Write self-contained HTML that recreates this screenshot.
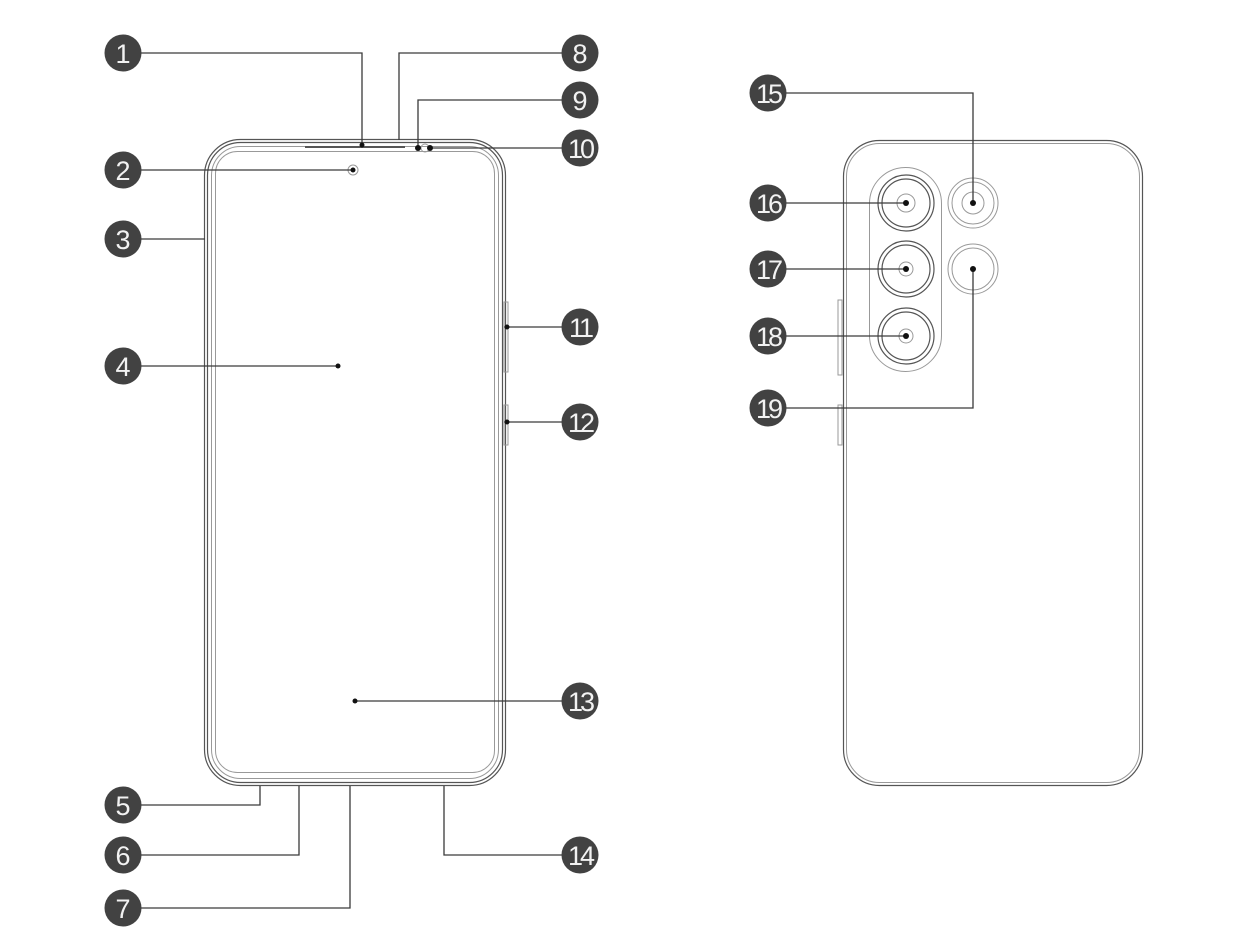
<!DOCTYPE html>
<html><head><meta charset="utf-8"><style>
html,body{margin:0;padding:0;background:#fff;}
svg{display:block;}
.b{fill:#424242;}
.t{fill:#f2f2f2;font-family:"Liberation Sans",sans-serif;font-size:27px;text-anchor:middle;dominant-baseline:central;}
.l{stroke:#3a3a3a;stroke-width:1.3;fill:none;}
.o{stroke:#555;stroke-width:1.2;fill:none;}
.g{stroke:#999;stroke-width:1;fill:none;}
</style></head><body>
<svg width="1246" height="939" viewBox="0 0 1246 939">
<!-- Front phone -->
<rect x="204.5" y="139.5" width="301" height="646" rx="36" class="o"/>
<rect x="207.5" y="142.5" width="295" height="640" rx="33" class="o"/>
<rect x="211.5" y="146.5" width="287" height="632" rx="29" class="g"/>
<rect x="215.5" y="151.5" width="279" height="621" rx="22" class="g"/>
<line x1="305" y1="147" x2="405" y2="147" stroke="#555" stroke-width="2"/>
<rect x="504" y="302" width="4" height="70" class="g"/>
<rect x="504" y="405" width="4" height="40" class="g"/>
<circle cx="353" cy="170" r="5" class="g"/>
<circle cx="425" cy="148" r="4" class="g"/>
<!-- Back phone -->
<rect x="843.5" y="140.5" width="299" height="645" rx="36" class="o"/>
<rect x="846.5" y="143.5" width="293" height="639" rx="33" class="g"/>
<rect x="838" y="300" width="4" height="75" class="g"/>
<rect x="838" y="405" width="4" height="40" class="g"/>
<rect x="869.5" y="167.5" width="72" height="204" rx="36" class="g"/>
<g>
<circle cx="906" cy="203" r="28" class="o"/><circle cx="906" cy="203" r="24" class="o" stroke-width="2"/><circle cx="906" cy="203" r="9" class="g"/>
<circle cx="906" cy="269" r="28" class="o"/><circle cx="906" cy="269" r="24" class="o" stroke-width="2"/><circle cx="906" cy="269" r="7" class="g"/>
<circle cx="906" cy="336" r="28" class="o"/><circle cx="906" cy="336" r="24" class="o" stroke-width="2"/><circle cx="906" cy="336" r="7" class="g"/>
<circle cx="973" cy="203" r="25" class="g"/><circle cx="973" cy="203" r="21" class="g"/><circle cx="973" cy="203" r="11" class="g"/>
<circle cx="973" cy="269" r="25" class="g"/><circle cx="973" cy="269" r="21" class="g"/>
</g>
<!-- connectors front -->
<polyline points="141,53 362,53 362,145" class="l"/><circle cx="362" cy="145" r="2.5" fill="#111"/>
<polyline points="562,53 399,53 399,140" class="l"/>
<polyline points="562,100 418,100 418,148" class="l"/><circle cx="418" cy="148" r="3" fill="#111"/>
<line x1="562" y1="148" x2="430" y2="148" class="l"/><circle cx="430" cy="148" r="3" fill="#111"/>
<line x1="141" y1="170" x2="353" y2="170" class="l"/><circle cx="353" cy="170" r="2.5" fill="#111"/>
<line x1="141" y1="239" x2="205" y2="239" class="l"/>
<line x1="141" y1="366" x2="338" y2="366" class="l"/><circle cx="338" cy="366" r="2.5" fill="#111"/>
<line x1="562" y1="327" x2="507" y2="327" class="l"/><circle cx="507" cy="327" r="2.5" fill="#111"/>
<line x1="562" y1="422" x2="507" y2="422" class="l"/><circle cx="507" cy="422" r="2.5" fill="#111"/>
<line x1="562" y1="701" x2="355" y2="701" class="l"/><circle cx="355" cy="701" r="2.5" fill="#111"/>
<polyline points="141,805 260,805 260,786" class="l"/>
<polyline points="141,855 299,855 299,786" class="l"/>
<polyline points="141,908 350,908 350,786" class="l"/>
<polyline points="562,855 444,855 444,786" class="l"/>
<!-- connectors back -->
<polyline points="786,93 973,93 973,203" class="l"/><circle cx="973" cy="203" r="3" fill="#111"/>
<line x1="786" y1="203" x2="906" y2="203" class="l"/><circle cx="906" cy="203" r="3" fill="#111"/>
<line x1="786" y1="269" x2="906" y2="269" class="l"/><circle cx="906" cy="269" r="3" fill="#111"/>
<line x1="786" y1="336" x2="906" y2="336" class="l"/><circle cx="906" cy="336" r="3" fill="#111"/>
<polyline points="786,408 973,408 973,269" class="l"/><circle cx="973" cy="269" r="3" fill="#111"/>
<!-- badges -->
<g>
<circle class="b" cx="123" cy="53" r="18.5"/><text class="t" x="123" y="54">1</text>
<circle class="b" cx="123" cy="170" r="18.5"/><text class="t" x="123" y="171">2</text>
<circle class="b" cx="123" cy="239" r="18.5"/><text class="t" x="123" y="240">3</text>
<circle class="b" cx="123" cy="366" r="18.5"/><text class="t" x="123" y="367">4</text>
<circle class="b" cx="123" cy="805" r="18.5"/><text class="t" x="123" y="806">5</text>
<circle class="b" cx="123" cy="855" r="18.5"/><text class="t" x="123" y="856">6</text>
<circle class="b" cx="123" cy="908" r="18.5"/><text class="t" x="123" y="909">7</text>
<circle class="b" cx="580" cy="53" r="18.5"/><text class="t" x="580" y="54">8</text>
<circle class="b" cx="580" cy="100" r="18.5"/><text class="t" x="580" y="101">9</text>
<circle class="b" cx="580" cy="148" r="18.5"/><text class="t" x="580" y="149" letter-spacing="-3">10</text>
<circle class="b" cx="580" cy="327" r="18.5"/><text class="t" x="580" y="328" letter-spacing="-3">11</text>
<circle class="b" cx="580" cy="422" r="18.5"/><text class="t" x="580" y="423" letter-spacing="-3">12</text>
<circle class="b" cx="580" cy="701" r="18.5"/><text class="t" x="580" y="702" letter-spacing="-3">13</text>
<circle class="b" cx="580" cy="855" r="18.5"/><text class="t" x="580" y="856" letter-spacing="-3">14</text>
<circle class="b" cx="768" cy="93" r="18.5"/><text class="t" x="768" y="94" letter-spacing="-3">15</text>
<circle class="b" cx="768" cy="203" r="18.5"/><text class="t" x="768" y="204" letter-spacing="-3">16</text>
<circle class="b" cx="768" cy="269" r="18.5"/><text class="t" x="768" y="270" letter-spacing="-3">17</text>
<circle class="b" cx="768" cy="336" r="18.5"/><text class="t" x="768" y="337" letter-spacing="-3">18</text>
<circle class="b" cx="768" cy="408" r="18.5"/><text class="t" x="768" y="409" letter-spacing="-3">19</text>
</g>
</svg>
</body></html>
